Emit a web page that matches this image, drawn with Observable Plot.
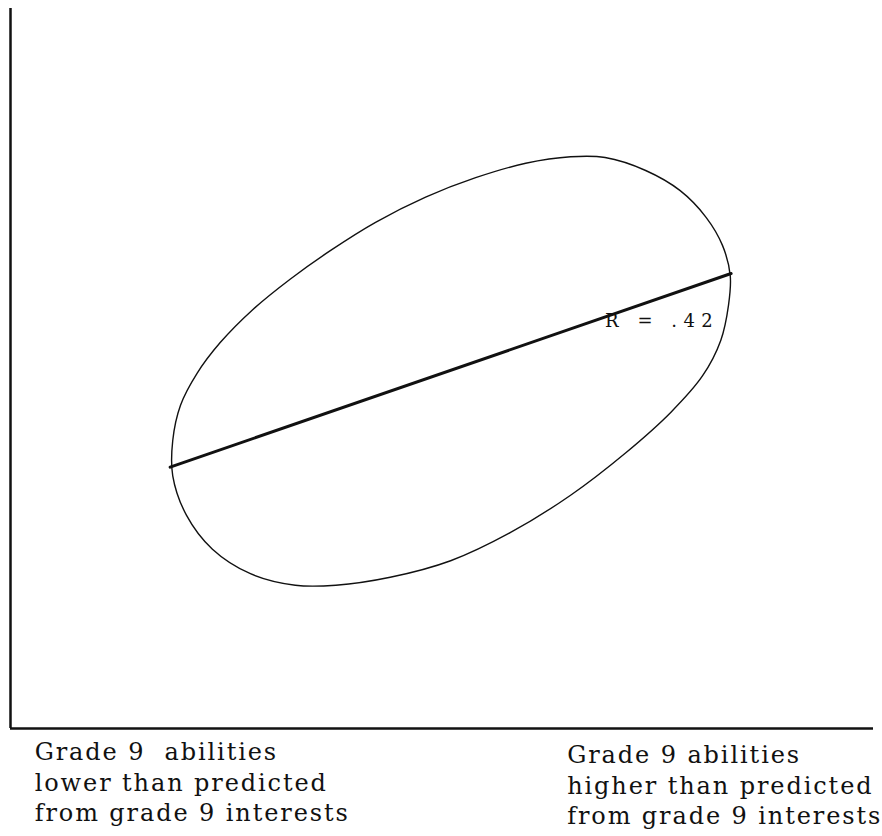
<!DOCTYPE html>
<html>
<head>
<meta charset="utf-8">
<script src="https://cdn.jsdelivr.net/npm/d3@7"></script>
<script src="https://cdn.jsdelivr.net/npm/@observablehq/plot@0.6"></script>
<style>
  html, body { margin: 0; padding: 0; background: #fff; }
  svg { display: block; }
  .rlabel text { letter-spacing: 6.5px; }
  .blabel text { letter-spacing: 1.9px; }
</style>
</head>
<body>
<div id="chart"></div>
<script>
// Ellipse outline (units: 0–100 on both axes)
const ellipseX = [64.9, 68.9, 73.6, 77.6, 80.6, 82.5, 83.4, 83.2, 82.3, 80.2, 76.5, 71.3, 64.9, 57.9, 51.0, 44.0, 37.7, 33.0, 27.8, 23.4, 20.4, 18.8, 18.8, 19.7, 21.6, 24.3, 28.0, 32.4, 37.1, 42.3, 48.1, 53.9, 59.7];
const ellipseY = [79.4, 79.3, 77.5, 74.7, 71.0, 67.1, 62.9, 58.8, 53.9, 49.0, 43.9, 38.3, 32.4, 27.2, 23.3, 21.0, 19.9, 19.9, 21.5, 24.9, 29.6, 35.1, 40.0, 44.9, 49.3, 53.6, 58.1, 62.4, 66.4, 70.3, 73.8, 76.5, 78.5];

// Regression line endpoints
const lineX = [18.5, 83.5];
const lineY = [36.3, 63.2];

const rLabel = "R = .42";
const leftLabel = ["Grade 9\u00a0 abilities", "lower than predicted", "from grade 9 interests"];
const rightLabel = ["Grade 9 abilities", "higher than predicted", "from grade 9 interests"];

const ellipse = ellipseX.map((x, i) => ({x, y: ellipseY[i]}));
const reg = lineX.map((x, i) => ({x, y: lineY[i]}));

const font = "DejaVu Serif";

const chart = Plot.plot({
  width: 882,
  height: 836,
  marginTop: 0, marginRight: 0, marginBottom: 0, marginLeft: 0,
  x: {domain: [0, 100], range: [10, 873], axis: null},
  y: {domain: [0, 100], range: [728, 8], axis: null},
  style: {background: "#fff", color: "#111"},
  marks: [
    Plot.ruleX([0], {y1: 0, y2: 100, stroke: "#111", strokeWidth: 2.5}),
    Plot.ruleY([0], {x1: 0, x2: 100, stroke: "#111", strokeWidth: 2.5}),
    Plot.line(ellipse, {x: "x", y: "y", curve: "catmull-rom-closed", stroke: "#111", strokeWidth: 1.4}),
    Plot.line(reg, {x: "x", y: "y", stroke: "#111", strokeWidth: 3}),
    Plot.text([rLabel], {x: 68.9, y: 55.7, text: d => d, textAnchor: "start", lineAnchor: "bottom",
      fontFamily: font, fontSize: 18, fill: "#111", className: "rlabel"}),
    Plot.text([leftLabel.join("\n")], {x: 2.8, y: -12.9, text: d => d, textAnchor: "start", lineAnchor: "bottom",
      lineHeight: 1.27, fontFamily: font, fontSize: 24, fill: "#111", className: "blabel"}),
    Plot.text([rightLabel.join("\n")], {x: 64.5, y: -13.3, text: d => d, textAnchor: "start", lineAnchor: "bottom",
      lineHeight: 1.27, fontFamily: font, fontSize: 24, fill: "#111", className: "blabel"})
  ]
});
document.getElementById("chart").appendChild(chart);
</script>
</body>
</html>
